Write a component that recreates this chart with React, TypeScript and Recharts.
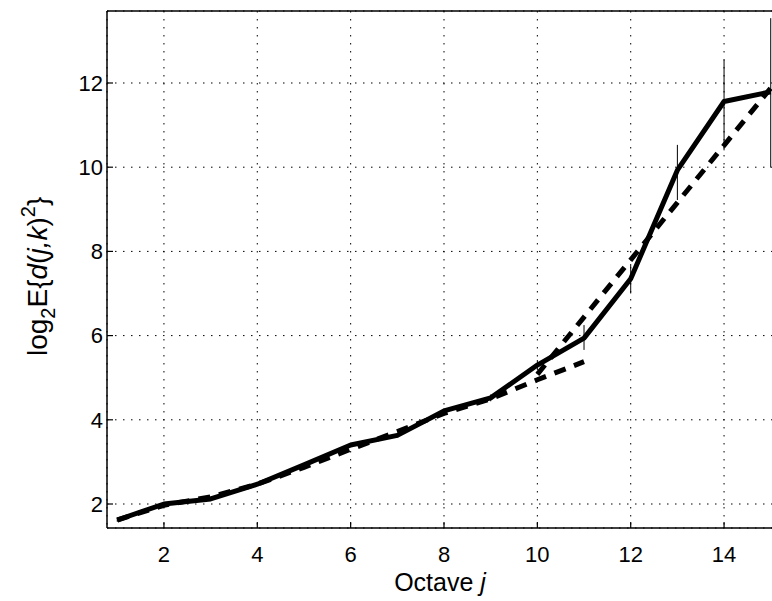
import { LineChart, Line, XAxis, YAxis, CartesianGrid, ErrorBar, Label } from "recharts";

// octave index j
const octaves = [1, 2, 3, 4, 5, 6, 7, 8, 9, 10, 11, 12, 13, 14, 15];
// log2 E{d(j,k)^2} estimate (solid)
const estimate = [1.62, 2.0, 2.12, 2.47, 2.93, 3.4, 3.63, 4.21, 4.52, 5.3, 5.94, 7.35, 9.93, 11.56, 11.79];
// confidence interval half-widths [below, above]
const errLow = [0.04, 0.04, 0.04, 0.04, 0.04, 0.05, 0.05, 0.06, 0.08, 0.12, 0.28, 0.35, 0.71, 1.16, 1.8];
const errHigh = [0.04, 0.04, 0.04, 0.04, 0.04, 0.05, 0.05, 0.06, 0.08, 0.12, 0.31, 0.35, 0.6, 0.99, 1.75];
// dashed fits
const fitLow = [1.62, 1.97, 2.17, 2.47, 2.87, 3.3, 3.72, 4.15, 4.5, 4.95, 5.38];
const fitHigh = [5.08, 6.44, 7.8, 9.16, 10.52, 11.88]; // octaves 10..15

const xTicks = [2, 4, 6, 8, 10, 12, 14];
const yTicks = [2, 4, 6, 8, 10, 12];

const rows = octaves.map((j, i) => ({
  j,
  est: estimate[i],
  err: [errLow[i], errHigh[i]],
  low: i < fitLow.length ? fitLow[i] : undefined,
  high: j >= 10 ? fitHigh[j - 10] : undefined,
}));

const FONT = "'Liberation Sans', Arial, Helvetica, sans-serif";
const tickStyle = { fill: "#000", fontSize: 22, fontFamily: FONT };

function YLabel() {
  return (
    <text
      x={47}
      y={356}
      transform="rotate(-90 47 356)"
      textAnchor="start"
      fontFamily={FONT}
      fontSize={28}
      fill="#000"
    >
      log
      <tspan dy={8} fontSize={20}>2</tspan>
      <tspan dy={-8}>E{"{"}</tspan>
      <tspan fontStyle="italic">d</tspan>
      <tspan>(</tspan>
      <tspan fontStyle="italic">j,k</tspan>
      <tspan>)</tspan>
      <tspan dy={-12} fontSize={20}>2</tspan>
      <tspan dy={12}>{"}"}</tspan>
    </text>
  );
}

export default function App() {
  return (
    <div style={{ position: "absolute", left: 0, top: 0, width: 772, height: 601, overflow: "hidden", background: "#fff" }}>
      <LineChart width={774} height={601} data={rows} margin={{ top: 0, right: 0, bottom: 0, left: 0 }}>
        <CartesianGrid stroke="#000" strokeWidth={1} strokeDasharray="1.5 6.5" />
        <XAxis
          dataKey="j"
          type="number"
          domain={[0.78, 15.07]}
          ticks={xTicks}
          allowDataOverflow
          height={73}
          tick={tickStyle}
          tickSize={-6}
          tickMargin={24}
          axisLine={{ stroke: "#000", strokeWidth: 1.5 }}
          tickLine={{ stroke: "#000", strokeWidth: 1.2 }}
        >
          <Label
            content={() => (
              <text x={440} y={591} textAnchor="middle" fontFamily={FONT} fontSize={25} fill="#000">
                Octave <tspan fontStyle="italic">j</tspan>
              </text>
            )}
          />
        </XAxis>
        <XAxis
          xAxisId="top"
          dataKey="j"
          type="number"
          orientation="top"
          domain={[0.78, 15.07]}
          ticks={xTicks}
          allowDataOverflow
          height={11}
          tick={false}
          tickSize={-6}
          axisLine={{ stroke: "#000", strokeWidth: 1.5 }}
          tickLine={{ stroke: "#000", strokeWidth: 1.2 }}
        />
        <YAxis
          type="number"
          domain={[1.43, 13.71]}
          ticks={yTicks}
          allowDataOverflow
          width={107}
          tick={tickStyle}
          tickSize={-6}
          tickMargin={10}
          axisLine={{ stroke: "#000", strokeWidth: 1.5 }}
          tickLine={{ stroke: "#000", strokeWidth: 1.2 }}
        >
          <Label content={() => <YLabel />} />
        </YAxis>
        <Line
          dataKey="low"
          stroke="#000"
          strokeWidth={5}
          strokeDasharray="12 9"
          dot={false}
          activeDot={false}
          isAnimationActive={false}
        />
        <Line
          dataKey="high"
          stroke="#000"
          strokeWidth={5}
          strokeDasharray="12 9"
          dot={false}
          activeDot={false}
          isAnimationActive={false}
        />
        <Line
          dataKey="est"
          stroke="#000"
          strokeWidth={5}
          strokeLinejoin="round"
          dot={false}
          activeDot={false}
          isAnimationActive={false}
        >
          <ErrorBar dataKey="err" direction="y" width={0} stroke="#000" strokeWidth={1} />
        </Line>
      </LineChart>
    </div>
  );
}
